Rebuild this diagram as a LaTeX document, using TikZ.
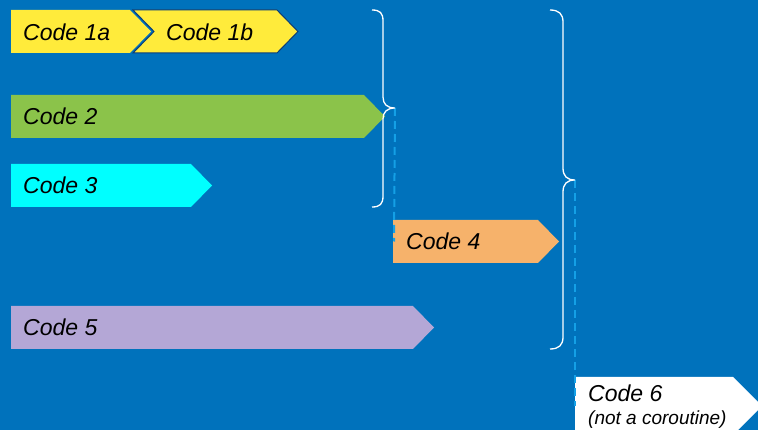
\documentclass[tikz,border=0pt]{standalone}
\usepackage{fontspec}
\setmainfont{Liberation Sans}
\definecolor{bg}{RGB}{0,114,188}
\definecolor{cyel}{RGB}{255,235,59}
\definecolor{cgrn}{RGB}{139,195,74}
\definecolor{ccyn}{RGB}{0,255,255}
\definecolor{corg}{RGB}{246,178,107}
\definecolor{cpur}{RGB}{180,167,214}
\definecolor{cdash}{RGB}{20,160,230}
\definecolor{cedge}{RGB}{10,60,120}
\tikzset{
  lbl/.style={inner sep=0pt, anchor=base west, font=\fontsize{23}{26}\selectfont\itshape, text=black},
  sublbl/.style={inner sep=0pt, anchor=base west, font=\fontsize{19}{22}\selectfont\itshape, text=black},
  bracepath/.style={draw=white, line width=1.3pt},
  dashconn/.style={draw=cdash, line width=2pt, dash pattern=on 8pt off 5pt}
}
\begin{document}
\begin{tikzpicture}[x=1pt,y=-1pt]
\fill[bg] (0,0) rectangle (758,430);
\useasboundingbox (0,0) rectangle (758,430);
\clip (0,0) rectangle (758,430);
% Code 1a
\fill[cyel] (11,10) -- (130,10) -- (151,31.5) -- (130,53) -- (11,53) -- cycle;
\node[lbl] (c1a) at (23,41) {Code 1a};
% Code 1b
\filldraw[fill=cyel, draw=cedge, line width=1pt] (133,10) -- (277,10) -- (298,31.5) -- (277,53) -- (133,53) -- (154,31.5) -- cycle;
\node[lbl] (c1b) at (166,41) {Code 1b};
% Code 2
\fill[cgrn] (11,95) -- (364,95) -- (385,116.5) -- (364,138) -- (11,138) -- cycle;
\node[lbl] (c2) at (23,125) {Code 2};
% Code 3
\fill[ccyn] (11,164) -- (191,164) -- (212,185.5) -- (191,207) -- (11,207) -- cycle;
\node[lbl] (c3) at (23,194) {Code 3};
% Code 4
\fill[corg] (393,220) -- (538,220) -- (559,241.5) -- (538,263) -- (393,263) -- cycle;
\coordinate (c4w) at (394,241.5);
\node[lbl] (c4) at (406,250) {Code 4};
% Code 5
\fill[cpur] (11,306) -- (413,306) -- (434,327.5) -- (413,349) -- (11,349) -- cycle;
\node[lbl] (c5) at (23,336) {Code 5};
% Code 6
\fill[white] (575,377) -- (733,377) -- (762,406) -- (733,435) -- (575,435) -- cycle;
\coordinate (c6w) at (575,406);
\node[lbl] (c6) at (588,402) {Code 6};
\node[sublbl] (c6s) at (588,424) {(not a coroutine)};
% braces
\coordinate (b1) at (395,108);
\coordinate (b2) at (575,180);
\draw[dashconn] (b1) -- (c4w);
\draw[dashconn] (b2) -- (c6w);
\draw[bracepath] (372,10) .. controls (380,10) and (383,13) .. (383,21) -- (383,97) .. controls (383,104) and (387,108) .. (b1) .. controls (387,108) and (383,112) .. (383,119) -- (383,196) .. controls (383,204) and (380,207) .. (372,207);
\draw[bracepath] (550,10) .. controls (559,10) and (563,14) .. (563,22) -- (563,168) .. controls (563,176) and (567,180) .. (b2) .. controls (567,180) and (563,184) .. (563,192) -- (563,337) .. controls (563,345) and (559,349) .. (550,349);
\end{tikzpicture}
\end{document}
